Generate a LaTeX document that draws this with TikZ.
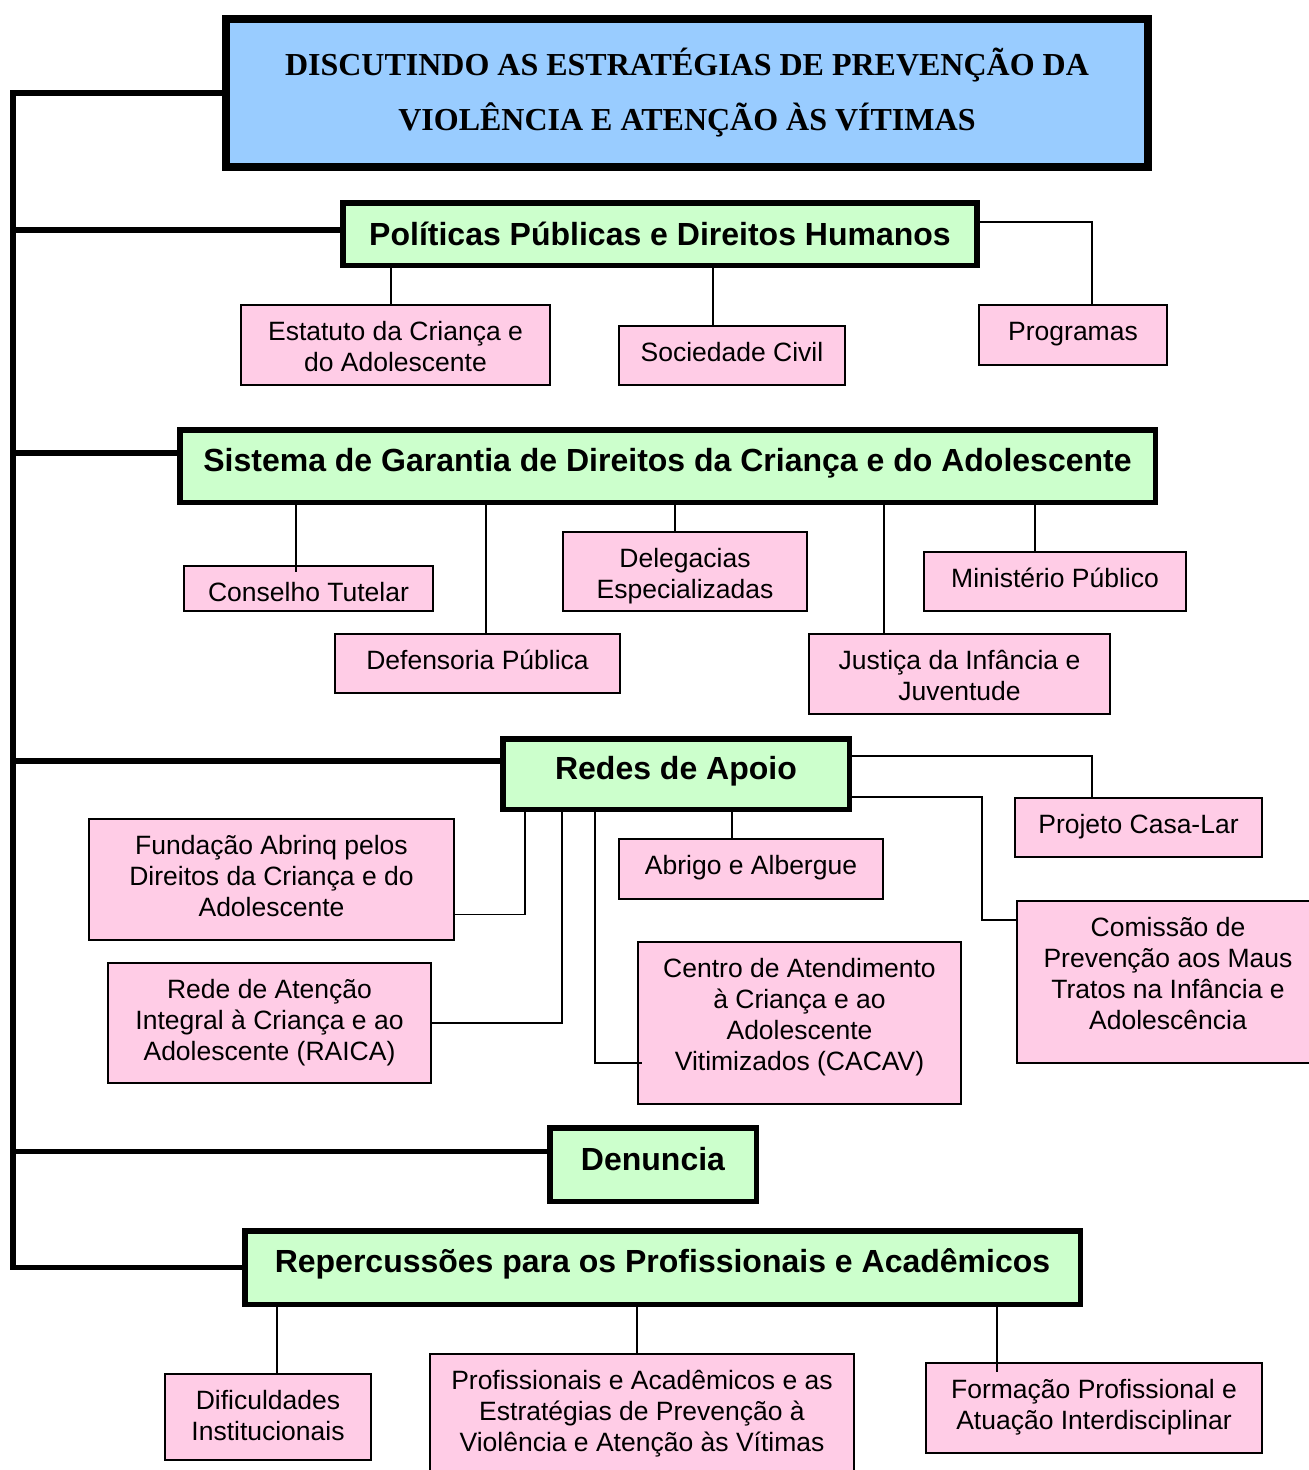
\documentclass[tikz,border=0pt]{standalone}
\usepackage{fontspec}
\setmainfont{Liberation Serif}
\setsansfont{Liberation Sans}
\usepackage{xcolor}
\usepackage{tikz}

\definecolor{titleblue}{HTML}{99CCFF}
\definecolor{topicgreen}{HTML}{CCFFCC}
\definecolor{itempink}{HTML}{FFCCE6}

\begin{document}
\begin{tikzpicture}[x=1pt, y=-1pt,
  title/.style={draw, line width=7.5pt, fill=titleblue, inner sep=0pt, align=center,
    font=\fontsize{32}{55}\selectfont\rmfamily\bfseries},
  topic/.style={draw, line width=5.5pt, fill=topicgreen, inner sep=0pt, text height=23pt, text depth=12pt,
    font=\fontsize{32}{38}\selectfont\sffamily\bfseries},
  item/.style={draw, line width=2pt, fill=itempink, inner sep=0pt, align=center, text height=35.5pt,
    font=\fontsize{26.5}{31}\selectfont\sffamily},
  twolines/.style={item, text height=66.5pt},
  threelines/.style={item, text height=97.5pt},
  fourlines/.style={item, text height=128.5pt},
  trunk/.style={line width=5.5pt},
  link/.style={line width=1.7pt}]

\useasboundingbox (0,0) rectangle (1309,1470);
\fill[white] (0,0) rectangle (1309,1470);
\clip (0,0) rectangle (1309,1470);

\node[title, minimum width=922pt, minimum height=148pt] (title) at (687,93)
  {DISCUTINDO AS ESTRATÉGIAS DE PREVENÇÃO DA\\VIOLÊNCIA E ATENÇÃO ÀS VÍTIMAS};

\node[topic, minimum width=634pt, minimum height=62.5pt, text depth=0pt] (pol) at (660,234) {Políticas Públicas e Direitos Humanos};
\node[topic, minimum width=975.5pt, minimum height=72.5pt] (sgd) at (667.5,466) {Sistema de Garantia de Direitos da Criança e do Adolescente};
\node[topic, minimum width=346.5pt, minimum height=70.5pt] (redes) at (676,774) {Redes de Apoio};
\node[topic, minimum width=206.5pt, minimum height=73.5pt, text depth=11pt] (den) at (653,1164.5) {Denuncia};
\node[topic, minimum width=835.5pt, minimum height=73.5pt, text depth=13pt] (rep) at (662.5,1267.5) {Repercussões para os Profissionais e Acadêmicos};

\node[twolines, minimum width=309pt, minimum height=80pt, text depth=13.5pt] (est) at (395.5,345) {Estatuto da Criança e\\do Adolescente};
\node[item, minimum width=226pt, minimum height=59pt, text depth=23.5pt] (soc) at (732,355.5) {Sociedade Civil};
\node[item, minimum width=188pt, minimum height=60pt, text depth=24.5pt] (prog) at (1073,335) {Programas};

\node[item, minimum width=249pt, minimum height=45pt, text depth=9.5pt] (ct) at (308.5,588.5) {Conselho Tutelar};
\node[item, minimum width=285pt, minimum height=59pt, text depth=23.5pt] (dp) at (477.5,663.5) {Defensoria Pública};
\node[twolines, minimum width=244pt, minimum height=79pt, text depth=12.5pt] (del) at (685,571.5) {Delegacias\\Especializadas};
\node[twolines, minimum width=301pt, minimum height=80pt, text depth=13.5pt] (jus) at (959.5,674) {Justiça da Infância e\\Juventude};
\node[item, minimum width=262pt, minimum height=59pt, text depth=23.5pt] (mp) at (1055,581.5) {Ministério Público};

\node[threelines, minimum width=365pt, minimum height=121pt, text depth=23.5pt] (fund) at (271.5,879.5) {Fundação Abrinq pelos\\Direitos da Criança e do\\Adolescente};
\node[threelines, minimum width=323pt, minimum height=120pt, text depth=22.5pt] (raica) at (269.5,1023) {Rede de Atenção\\Integral à Criança e ao\\Adolescente (RAICA)};
\node[item, minimum width=264pt, minimum height=60pt, text depth=24.5pt] (abr) at (751,869) {Abrigo e Albergue};
\node[fourlines, minimum width=323pt, minimum height=162pt, text depth=33.5pt] (cacav) at (799.5,1023) {Centro de Atendimento\\à Criança e ao\\Adolescente\\Vitimizados (CACAV)};
\node[item, minimum width=247pt, minimum height=59pt, text depth=23.5pt] (casa) at (1138.5,827.5) {Projeto Casa-Lar};
\node[fourlines, minimum width=302pt, minimum height=162pt, text depth=33.5pt] (com) at (1168,982) {Comissão de\\Prevenção aos Maus\\Tratos na Infância e\\Adolescência};

\node[twolines, minimum width=206pt, minimum height=86pt, text depth=19.5pt] (dif) at (268,1417) {Dificuldades\\Institucionais};
\node[threelines, minimum width=424pt, minimum height=125pt, text depth=27.5pt] (prof) at (642,1416.5) {Profissionais e Acadêmicos e as\\Estratégias de Prevenção à\\Violência e Atenção às Vítimas};
\node[twolines, minimum width=336pt, minimum height=90pt, text depth=23.5pt] (form) at (1094,1408) {Formação Profissional e\\Atuação Interdisciplinar};

\coordinate (spine) at (13,0);
\coordinate (polin) at ([yshift=4pt]pol.west);
\coordinate (sgdin) at ([yshift=13pt]sgd.west);
\coordinate (redesin) at ([yshift=13pt]redes.west);
\coordinate (denin) at ([yshift=13pt]den.west);

\draw[trunk] (title.west) -| (spine |- rep.west) -- (rep.west);
\draw[trunk] (spine |- polin) -- (polin);
\draw[trunk] (spine |- sgdin) -- (sgdin);
\draw[trunk] (spine |- redesin) -- (redesin);
\draw[trunk] (spine |- denin) -- (denin);

\draw[link] (pol.south -| 391,0) -- (est.north -| 391,0);
\draw[link] (pol.south -| 713,0) -- (soc.north -| 713,0);
\draw[link] ([yshift=12pt]pol.east) -| (prog.north -| 1092,0);

\draw[link] (sgd.south -| 296,0) -- (ct.north -| 296,0) -- ++(0,7);
\draw[link] (sgd.south -| 486,0) -- (dp.north -| 486,0);
\draw[link] (sgd.south -| 675,0) -- (del.north -| 675,0);
\draw[link] (sgd.south -| 884,0) -- (jus.north -| 884,0);
\draw[link] (sgd.south -| 1035,0) -- (mp.north -| 1035,0);

\draw[link] ([yshift=-35pt]fund.east) -| (redes.south -| 525,0);
\draw[link] (raica.east) -| (redes.south -| 562,0);
\draw[link] (redes.south -| 595,0) |- ([xshift=5pt,yshift=-40pt]cacav.west);
\draw[link] (redes.south -| 732,0) -- (abr.north -| 732,0);
\draw[link] ([yshift=18pt]redes.east) -| (casa.north -| 1092,0);
\draw[link] ([yshift=-23pt]redes.east) -- ++(130,0) |- ([yshift=62pt]com.west);

\draw[link] (rep.south -| 277,0) -- (dif.north -| 277,0);
\draw[link] (rep.south -| 637,0) -- (prof.north -| 637,0);
\draw[link] (rep.south -| 997,0) -- (form.north -| 997,0) -- ++(0,10);
\end{tikzpicture}
\end{document}
